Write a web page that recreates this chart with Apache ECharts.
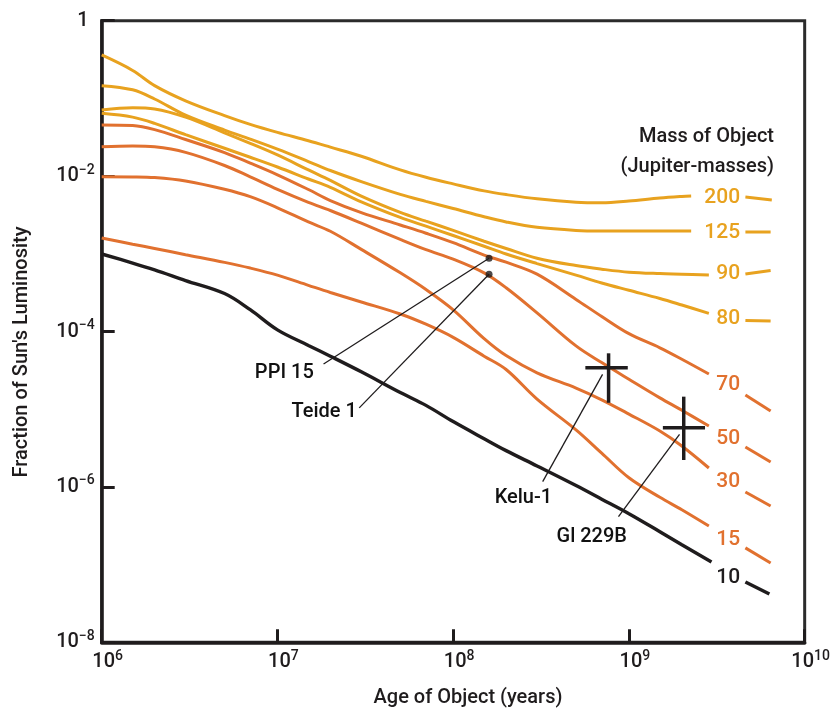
<!DOCTYPE html>
<html><head><meta charset="utf-8">
<script src="https://cdn.jsdelivr.net/npm/echarts@6/dist/echarts.min.js"></script>
<style>html,body{margin:0;padding:0;background:#fff}#c{width:833px;height:711px}</style>
</head><body><div id="c"></div>
<script>
// ---------- DATA (age in years, luminosity as fraction of the Sun's) ----------
const massNames = ['200', '125', '90', '80', '70', '50', '30', '15', '10'];

const m200 = [[1e6,0.362],[1.5e6,0.229],[2e6,0.146],[3e6,0.0931],[5e6,0.060],[7e6,0.0463],[1e7,0.0365],[1.5e7,0.0285],[2e7,0.0236],[3e7,0.0180],[5e7,0.0120],[7e7,0.00965],[1e8,0.00794],[1.5e8,0.00645],[2e8,0.00578],[3e8,0.00510],[5e8,0.00461],[7e8,0.00453],[1e9,0.00477],[1.5e9,0.00523],[2e9,0.00548],[2.26e9,0.00555]];
const m200Tail = [[4.6e9,0.00538],[6.5e9,0.00493]];

const m125 = [[1e6,0.146],[1.5e6,0.129],[2e6,0.0982],[3e6,0.0608],[5e6,0.0391],[7e6,0.0299],[1e7,0.0222],[1.5e7,0.0154],[2e7,0.0118],[3e7,0.0085],[5e7,0.00582],[7e7,0.00473],[1e8,0.00383],[1.5e8,0.0030],[2e8,0.00257],[3e8,0.00219],[5e8,0.0020],[7e8,0.00197],[1e9,0.00197],[1.5e9,0.00197],[2e9,0.00197],[2.26e9,0.00197]];
const m125Tail = [[4.6e9,0.00191],[6.4e9,0.00191]];

const m90 = [[1e6,0.0709],[1.5e6,0.0757],[2e6,0.0730],[3e6,0.0573],[5e6,0.0361],[7e6,0.0264],[1e7,0.0187],[1.5e7,0.0120],[2e7,0.0088],[3e7,0.00553],[5e7,0.00341],[7e7,0.00263],[1e8,0.00200],[1.5e8,0.00145],[2e8,0.00117],[3e8,0.000878],[5e8,0.000705],[7e8,0.000634],[1e9,0.000580],[1.5e9,0.000556],[2e9,0.000547],[2.85e9,0.000534]];
const m90Tail = [[4.6e9,0.00055],[6.4e9,0.00061]];

const m80 = [[1e6,0.0643],[1.5e6,0.0574],[2e6,0.0477],[3e6,0.0341],[5e6,0.0228],[7e6,0.0175],[1e7,0.0131],[1.5e7,0.00918],[2e7,0.00716],[3e7,0.00467],[5e7,0.00294],[7e7,0.00227],[1e8,0.00172],[1.5e8,0.00125],[2e8,0.000994],[3e8,0.000748],[5e8,0.000531],[7e8,0.000421],[1e9,0.000339],[1.5e9,0.000266],[2e9,0.000219],[2.85e9,0.000171]];
const m80Tail = [[4.6e9,0.000139],[6.4e9,0.000137]];

const m70 = [[1e6,0.0455],[1.5e6,0.0447],[2e6,0.0396],[3e6,0.0296],[5e6,0.0201],[7e6,0.0147],[1e7,0.0104],[1.5e7,0.00672],[2e7,0.00485],[3e7,0.00339],[5e7,0.00235],[7e7,0.00184],[1e8,0.00139],[1.5e8,0.000962],[2e8,0.000780],[3e8,0.000547],[5e8,0.000259],[7e8,0.000156],[1e9,0.0000937],[1.5e9,0.0000617],[2e9,0.0000440],[2.85e9,0.0000284]];
const m70Tail = [[4.6e9,1.52e-5],[6.4e9,9.48e-6]];

const m50 = [[1e6,0.0239],[1.5e6,0.0244],[2e6,0.0238],[3e6,0.0202],[5e6,0.0137],[7e6,0.0098],[1e7,0.00676],[1.5e7,0.0046],[2e7,0.00361],[3e7,0.00248],[5e7,0.00153],[7e7,0.00113],[1e8,0.000855],[1.5e8,0.000569],[2e8,0.000366],[3e8,0.000174],[5e8,6.53e-5],[7e8,3.98e-5],[1e9,2.43e-5],[1.5e9,1.40e-5],[2e9,9.71e-6],[2.85e9,6.08e-6]];
const m50Tail = [[4.6e9,3.26e-6],[6.4e9,2.09e-6]];

const m30 = [[1e6,0.00982],[1.5e6,0.00977],[2e6,0.00957],[3e6,0.00865],[5e6,0.00676],[7e6,0.00543],[1e7,0.00391],[1.5e7,0.00257],[2e7,0.00195],[3e7,0.00114],[5e7,0.000569],[7e7,0.000347],[1e8,0.00019],[1.5e8,8.1e-5],[2e8,4.9e-5],[3e8,2.94e-5],[5e8,1.87e-5],[7e8,1.32e-5],[1e9,8.65e-6],[1.5e9,5.24e-6],[2e9,3.36e-6],[2.85e9,1.75e-6]];
const m30Tail = [[4.6e9,8.6e-7],[6.4e9,5.68e-7]];

const m15 = [[1e6,0.0016],[1.5e6,0.00133],[2e6,0.00117],[3e6,0.000974],[5e6,0.000775],[7e6,0.000655],[1e7,0.000531],[1.5e7,0.000393],[2e7,0.000318],[3e7,0.00024],[5e7,0.000168],[7e7,0.000124],[1e8,8.4e-5],[1.5e8,4.81e-5],[2e8,3.24e-5],[3e8,1.35e-5],[5e8,5.42e-6],[7e8,2.72e-6],[1e9,1.31e-6],[1.5e9,7.35e-7],[2e9,5.09e-7],[2.85e9,3.14e-7]];
const m15Tail = [[4.6e9,1.64e-7],[6.4e9,1.05e-7]];

const m10 = [[1e6,0.000994],[1.5e6,0.000761],[2e6,0.000621],[3e6,0.000453],[5e6,0.000308],[7e6,0.000191],[1e7,0.000105],[1.5e7,6.62e-5],[2e7,4.81e-5],[3e7,3.03e-5],[5e7,1.64e-5],[7e7,1.12e-5],[1e8,6.93e-6],[1.5e8,4.17e-6],[2e8,2.93e-6],[3e8,1.86e-6],[5e8,1.04e-6],[7e8,6.95e-7],[1e9,4.52e-7],[1.5e9,2.65e-7],[2e9,1.8e-7],[2.95e9,1.08e-7]];
const m10Tail = [[4.6e9,5.97e-8],[6.3e9,4.18e-8]];

// mass labels (age where label text ends, luminosity of label centre)
const massLabelAge = 4.32e9;
const massLabelLum = [5.34e-3, 1.89e-3, 5.61e-4, 1.48e-4, 2.05e-5, 4.22e-6, 1.17e-6, 2.07e-7, 6.87e-8];

// observed objects with error bars
const objectNames = ['Kelu-1', 'Gl 229B'];
const objectAge = [7.66e8, 2.05e9];
const objectAgeLo = [5.65e8, 1.56e9];
const objectAgeHi = [9.85e8, 2.71e9];
const objectLum = [3.42e-5, 5.78e-6];
const objectLumLo = [1.21e-5, 2.22e-6];
const objectLumHi = [5.24e-5, 1.45e-5];

// annotation leader lines and labels (label age = where the text ends)
const leaderPPI = [[1.83e7, 3.82e-5], [1.6e8, 8.75e-4]];
const leaderTeide = [[2.92e7, 1.04e-5], [1.6e8, 5.45e-4]];
const leaderKelu = [[3.23e8, 1.17e-6], [7.08e8, 2.81e-5]];
const leaderGl = [[8.72e8, 4.14e-7], [1.94e9, 4.75e-6]];
const clusterDots = [[1.6e8, 8.75e-4], [1.6e8, 5.45e-4]];
const annotationText = ['PPI 15', 'Teide 1', 'Kelu-1', 'Gl 229B'];
const annotationAge = [1.62e7, 2.85e7, 3.68e8, 9.81e8];
const annotationLum = [2.92e-5, 9.29e-6, 7.2e-7, 2.27e-7];

// ---------- STYLE ----------
const GOLD = '#E8A21F', ORANGE = '#E1712F', INK = '#1f1c1d';
const FONT = 'Roboto';
const FW = 500;
const curveColors = [GOLD, GOLD, GOLD, GOLD, ORANGE, ORANGE, ORANGE, ORANGE, INK];
const mains = [m200, m125, m90, m80, m70, m50, m30, m15, m10];
const tails = [m200Tail, m125Tail, m90Tail, m80Tail, m70Tail, m50Tail, m30Tail, m15Tail, m10Tail];

const series = [];
mains.forEach((d, i) => {
  [d, tails[i]].forEach(part => {
    series.push({
      type: 'line', data: part, smooth: 0.35, symbol: 'none', silent: true,
      lineStyle: { color: curveColors[i], width: i === 8 ? 3.4 : 3 },
      z: i === 8 ? 4 : 3
    });
  });
});

// leader lines
[leaderPPI, leaderTeide, leaderKelu, leaderGl].forEach(d => {
  series.push({ type: 'line', data: d, symbol: 'none', silent: true,
    lineStyle: { color: INK, width: 1.3 }, z: 5 });
});
series.push({ type: 'scatter', data: clusterDots, symbolSize: 7, silent: true,
  itemStyle: { color: INK }, z: 6 });

// all text labels tied to data positions (mass labels + object names)
const labelItems = massLabelLum.map((v, i) => ({
  value: [massLabelAge, v],
  label: { show: true, position: 'left', distance: 0, formatter: massNames[i], opacity: 1,
    color: curveColors[i], fontSize: 21, fontWeight: FW, fontFamily: FONT }
})).concat(annotationText.map((t, i) => ({
  value: [annotationAge[i], annotationLum[i]],
  label: { show: true, position: 'left', distance: 0, formatter: t, opacity: 1,
    color: '#111111', fontSize: 20, fontWeight: FW, fontFamily: FONT }
})));
series.push({
  type: 'scatter', silent: true, symbolSize: 1, itemStyle: { color: 'rgba(0,0,0,0)' },
  data: labelItems, z: 8
});

// error-bar crosses
series.push({
  type: 'custom', silent: true, z: 7,
  encode: { x: 0, y: 1 },
  data: objectNames.map((n, i) => [objectAge[i], objectLum[i], objectAgeLo[i], objectAgeHi[i], objectLumLo[i], objectLumHi[i]]),
  renderItem: function (params, api) {
    const x = api.value(0), y = api.value(1);
    const l = api.coord([api.value(2), y]), r = api.coord([api.value(3), y]);
    const b = api.coord([x, api.value(4)]), t = api.coord([x, api.value(5)]);
    const st = { stroke: INK, lineWidth: 3.5 };
    return { type: 'group', children: [
      { type: 'line', shape: { x1: l[0], y1: l[1], x2: r[0], y2: r[1] }, style: st },
      { type: 'line', shape: { x1: t[0], y1: t[1], x2: b[0], y2: b[1] }, style: st }
    ] };
  }
});

function expLabel(v) {
  const e = Math.round(Math.log10(v));
  if (e === 0) return '{one|1}';
  return '{b|10}{s|' + (e < 0 ? '\u2212' + (-e) : e) + '}';
}
const richStyle = {
  b: { fontSize: 20, fontWeight: FW, fontFamily: FONT, color: INK },
  s: { fontSize: 14, fontWeight: FW, fontFamily: FONT, color: INK, padding: [0, 0, 12, 0] },
  one: { fontSize: 20, fontWeight: FW, fontFamily: FONT, color: INK, padding: [0, 6, 0, 0] }
};

const chart = echarts.init(document.getElementById('c'), null, { renderer: 'canvas' });
chart.setOption({
  animation: false,
  backgroundColor: '#ffffff',
  grid: { left: 101.7, top: 20.7, right: 26.3, bottom: 68.7, show: true,
    borderColor: '#2b2b2b', borderWidth: 3, backgroundColor: 'transparent' },
  xAxis: {
    type: 'log', logBase: 10, min: 1e6, max: 1e10, interval: 1,
    splitLine: { show: false },
    axisLine: { show: true, lineStyle: { color: INK, width: 3.5 } },
    axisTick: { show: true, inside: true, length: 13, lineStyle: { color: INK, width: 3 } },
    axisLabel: { formatter: expLabel, rich: richStyle, margin: 7, padding: [0, 0, 0, 12] }
  },
  yAxis: {
    type: 'log', logBase: 10, min: 1e-8, max: 1, interval: 2,
    splitLine: { show: false },
    axisLine: { show: true, lineStyle: { color: INK, width: 3.5 } },
    axisTick: { show: true, inside: true, length: 13, lineStyle: { color: INK, width: 3 } },
    axisLabel: { formatter: expLabel, rich: richStyle, margin: 7 }
  },
  graphic: [
    { type: 'text', x: 468, y: 698, silent: true,
      style: { text: 'Age of Object (years)', fontSize: 20, fontWeight: FW, fontFamily: FONT, fill: INK, align: 'center', verticalAlign: 'middle' } },
    { type: 'text', x: 22, y: 352, rotation: Math.PI / 2, silent: true,
      style: { text: "Fraction of Sun's Luminosity", fontSize: 20, fontWeight: FW, fontFamily: FONT, fill: INK, align: 'center', verticalAlign: 'middle' } },
    { type: 'text', x: 774, y: 137, silent: true,
      style: { text: 'Mass of Object', fontSize: 20, fontWeight: FW, fontFamily: FONT, fill: INK, align: 'right', verticalAlign: 'middle' } },
    { type: 'text', x: 774, y: 167, silent: true,
      style: { text: '(Jupiter-masses)', fontSize: 20, fontWeight: FW, fontFamily: FONT, fill: INK, align: 'right', verticalAlign: 'middle' } }
  ],
  series: series
});
</script></body></html>
